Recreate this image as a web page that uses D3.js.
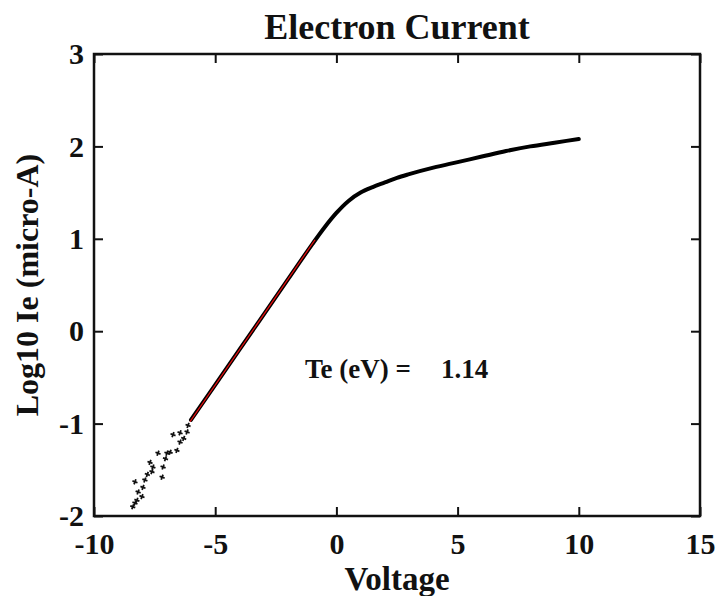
<!DOCTYPE html>
<html>
<head>
<meta charset="utf-8">
<script src="https://cdn.jsdelivr.net/npm/d3@7"></script>
<style>
  html, body { margin: 0; padding: 0; background: #fff; }
  svg text { font-family: "Liberation Serif", "Times New Roman", serif; font-weight: bold; fill: #111; }
</style>
</head>
<body>
<svg id="chart" width="721" height="596"></svg>
<script>
// ---- data ----
const xTicks = [-10, -5, 0, 5, 10, 15];
const yTicks = [-2, -1, 0, 1, 2, 3];
// noisy low-current points
const scatterV = [-6.12, -6.45, -6.16, -6.74, -6.45, -6.86, -6.58, -7.36, -6.99, -7.69, -7.57, -7.15, -7.61, -7.19, -7.90, -8.31, -7.98, -8.18, -8.02, -8.23, -8.31, -8.40, -7.80, -7.05, -6.30];
const scatterL = [-1.02, -1.10, -1.09, -1.12, -1.20, -1.31, -1.29, -1.32, -1.32, -1.42, -1.47, -1.47, -1.52, -1.58, -1.61, -1.63, -1.69, -1.74, -1.79, -1.83, -1.86, -1.90, -1.55, -1.38, -1.16];
// dense measured curve
const curveV = [-6.0, -5.0, -4.0, -3.0, -2.0, -1.0, -0.5, 0, 0.5, 1.0, 1.5, 2.0, 2.5, 3, 4, 5, 6, 7, 8, 9, 10];
const curveL = [-0.96, -0.58, -0.20, 0.18, 0.56, 0.94, 1.12, 1.28, 1.41, 1.50, 1.56, 1.61, 1.66, 1.70, 1.77, 1.83, 1.89, 1.95, 2.00, 2.04, 2.08];
// fit line (red)
const fitV = [-6.04, -0.88];
const fitL = [-0.98, 0.99];
const teValue = "1.14";

// ---- layout ----
const svg = d3.select("#chart");
const L = 94, R = 700, T = 54, B = 516;
const x = d3.scaleLinear().domain([-10, 15]).range([L, R]);
const y = d3.scaleLinear().domain([-2, 3]).range([B, T]);

// data marks
const line = d3.line().x(d => x(d[0])).y(d => y(d[1])).curve(d3.curveMonotoneX);
svg.append("path")
  .datum(curveV.map((v, i) => [v, curveL[i]]))
  .attr("d", line)
  .attr("fill", "none").attr("stroke", "#000").attr("stroke-width", 4)
  .attr("stroke-linecap", "round");

const sym = d3.symbol().type(d3.symbolCross).size(16);
svg.append("g").selectAll("path")
  .data(scatterV.map((v, i) => [v, scatterL[i]]))
  .join("path")
  .attr("d", sym)
  .attr("transform", d => `translate(${x(d[0])},${y(d[1])}) rotate(20)`)
  .attr("fill", "#111");

svg.append("path")
  .datum(fitV.map((v, i) => [v, fitL[i]]))
  .attr("d", d3.line().x(d => x(d[0])).y(d => y(d[1])))
  .attr("fill", "none").attr("stroke", "#f01010").attr("stroke-width", 1.2);

// axes (inward ticks, boxed)
const tickLen = 9;
const fmt = d => String(d);
const axB = d3.axisBottom(x).tickValues(xTicks).tickSize(-tickLen).tickPadding(17).tickFormat(fmt);
const axT = d3.axisTop(x).tickValues(xTicks).tickSize(-tickLen).tickFormat("");
const axLft = d3.axisLeft(y).tickValues(yTicks).tickSize(-tickLen).tickPadding(10).tickFormat(fmt);
const axRt = d3.axisRight(y).tickValues(yTicks).tickSize(-tickLen).tickFormat("");

function style(g) {
  g.select(".domain").remove();
  g.selectAll(".tick line").attr("stroke", "#111").attr("stroke-width", 2);
  g.selectAll(".tick text").attr("font-size", 30).attr("fill", "#111")
    .attr("font-family", "Liberation Serif, serif").attr("font-weight", "bold");
}
svg.append("g").attr("transform", `translate(0,${B})`).call(axB).call(style);
svg.append("g").attr("transform", `translate(0,${T})`).call(axT).call(style);
svg.append("g").attr("transform", `translate(${L},0)`).call(axLft).call(style);
svg.append("g").attr("transform", `translate(${R},0)`).call(axRt).call(style);

svg.append("rect").attr("x", L).attr("y", T).attr("width", R - L).attr("height", B - T)
  .attr("fill", "none").attr("stroke", "#111").attr("stroke-width", 2.5);

// texts
svg.append("text").attr("x", (L + R) / 2).attr("y", 39).attr("text-anchor", "middle")
  .attr("font-size", 36).text("Electron Current");
svg.append("text").attr("x", (L + R) / 2).attr("y", 590).attr("text-anchor", "middle")
  .attr("font-size", 33).text("Voltage");
svg.append("text").attr("transform", `translate(38,${(T + B) / 2}) rotate(-90)`)
  .attr("text-anchor", "middle").attr("font-size", 32).text("Log10 Ie (micro-A)");
svg.append("text").attr("x", 305).attr("y", 378).attr("font-size", 27).text("Te (eV) =");
svg.append("text").attr("x", 441).attr("y", 378).attr("font-size", 27).text(teValue);
</script>
</body>
</html>
